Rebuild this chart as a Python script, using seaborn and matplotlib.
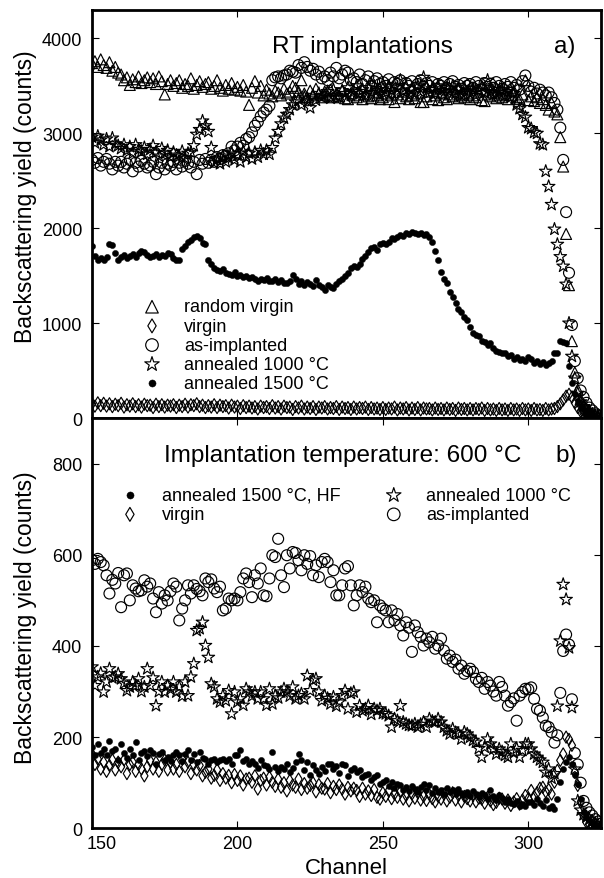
import numpy as np
import matplotlib
matplotlib.use("Agg")
import matplotlib.pyplot as plt
import matplotlib.transforms as mtransforms
import seaborn as sns

# ---------------- data (one value per channel, 150..325) ----------------
channels = np.arange(150, 326)

# panel a) RT implantations
rt_random_virgin = [
    3740, 3760, 3700, 3780, 3720, 3690, 3750, 3660, 3700, 3640,
    3620, 3560, 3590, 3510, 3570, 3540, 3600, 3530, 3560, 3590,
    3540, 3580, 3520, 3600, 3550, 3410, 3520, 3560, 3500, 3530,
    3560, 3480, 3520, 3500, 3580, 3470, 3510, 3550, 3490, 3520,
    3540, 3470, 3500, 3560, 3480, 3450, 3510, 3470, 3530, 3460,
    3490, 3450, 3510, 3440, 3300, 3480, 3550, 3430, 3500, 3400,
    3460, 3420, 3390, 3450, 3430, 3400, 3470, 3420, 3440, 3500,
    3480, 3440, 3560, 3420, 3380, 3450, 3400, 3470, 3420, 3380,
    3440, 3400, 3460, 3380, 3420, 3390, 3450, 3370, 3360, 3420,
    3400, 3380, 3440, 3360, 3410, 3390, 3370, 3430, 3400, 3360,
    3380, 3420, 3360, 3400, 3330, 3410, 3370, 3440, 3390, 3360,
    3400, 3370, 3420, 3330, 3330, 3390, 3440, 3360, 3400, 3350,
    3420, 3380, 3360, 3410, 3390, 3440, 3370, 3400, 3380, 3420,
    3360, 3400, 3380, 3440, 3350, 3340, 3410, 3390, 3430, 3370,
    3400, 3380, 3420, 3360, 3400, 3450, 3380, 3360, 3410, 3560,
    3350, 3390, 3340, 3380, 3320, 3360, 3300, 3250, 3320, 3230,
    3200, 2960, 2650, 1940, 1400, 810, 480, 300, 200, 140,
    100, 70, 50, 30, 20, 10]

rt_virgin = [
    150, 125, 160, 130, 155, 125, 150, 120, 145, 130,
    155, 115, 140, 125, 150, 120, 140, 115, 145, 130,
    135, 110, 145, 120, 140, 115, 135, 125, 140, 110,
    135, 120, 145, 115, 140, 130, 150, 120, 135, 110,
    130, 115, 140, 110, 135, 120, 130, 105, 135, 115,
    125, 100, 130, 110, 125, 105, 120, 95, 125, 110,
    120, 100, 130, 105, 120, 95, 125, 110, 115, 90,
    120, 105, 125, 95, 115, 100, 120, 90, 115, 105,
    120, 95, 110, 100, 120, 90, 115, 100, 110, 90,
    115, 95, 110, 100, 115, 90, 110, 95, 105, 90,
    110, 90, 105, 95, 115, 85, 105, 95, 110, 85,
    105, 90, 110, 85, 105, 95, 100, 85, 105, 90,
    100, 85, 105, 90, 100, 80, 105, 90, 100, 85,
    100, 85, 100, 90, 105, 80, 100, 85, 95, 80,
    100, 85, 95, 80, 100, 85, 95, 80, 100, 85,
    95, 80, 100, 85, 90, 80, 100, 85, 95, 100,
    120, 150, 190, 230, 250, 220, 160, 110, 70, 50,
    35, 25, 15, 10, 5, 0]

rt_as_implanted = [
    2720, 2690, 2740, 2660, 2700, 2730, 2680, 2620, 2700, 2660,
    2700, 2640, 2680, 2720, 2600, 2690, 2650, 2710, 2680, 2640,
    2660, 2700, 2570, 2640, 2690, 2620, 2680, 2660, 2700, 2620,
    2690, 2650, 2710, 2680, 2640, 2700, 2570, 2720, 2680, 2730,
    2690, 2720, 2700, 2750, 2730, 2770, 2760, 2790, 2860, 2820,
    2860, 2900, 2870, 2940, 2960, 3010, 3080, 3120, 3180, 3220,
    3250, 3290, 3560, 3590, 3600, 3580, 3610, 3620, 3660, 3650,
    3640, 3720, 3690, 3750, 3700, 3660, 3680, 3620, 3650, 3580,
    3600, 3560, 3640, 3600, 3690, 3580, 3620, 3660, 3640, 3560,
    3580, 3540, 3620, 3520, 3560, 3600, 3500, 3550, 3580, 3520,
    3540, 3500, 3570, 3480, 3540, 3520, 3560, 3470, 3530, 3500,
    3550, 3480, 3520, 3560, 3490, 3530, 3500, 3540, 3470, 3520,
    3500, 3540, 3480, 3520, 3550, 3490, 3510, 3470, 3530, 3500,
    3520, 3480, 3540, 3500, 3460, 3530, 3490, 3520, 3480, 3540,
    3500, 3470, 3520, 3490, 3540, 3480, 3510, 3460, 3550, 3610,
    3500, 3440, 3480, 3420, 3460, 3430, 3400, 3430, 3380, 3320,
    3250, 3060, 2720, 2170, 1530, 980, 600, 420, 290, 220,
    160, 110, 80, 50, 30, 20]

rt_annealed_1000 = [
    2960, 2900, 2970, 2930, 2880, 2940, 2860, 2950, 2890, 2870,
    2840, 2880, 2820, 2860, 2790, 2880, 2830, 2810, 2850, 2780,
    2830, 2870, 2800, 2760, 2840, 2790, 2820, 2750, 2800, 2770,
    2760, 2810, 2740, 2790, 2800, 2870, 2990, 3040, 3130, 3080,
    3020, 2850, 2690, 2730, 2680, 2760, 2700, 2740, 2790, 2720,
    2770, 2700, 2810, 2750, 2790, 2730, 2800, 2750, 2820, 2780,
    2820, 2780, 2850, 2950, 3020, 3100, 3160, 3200, 3250, 3300,
    3330, 3360, 3300, 3380, 3340, 3270, 3400, 3350, 3420, 3380,
    3400, 3440, 3370, 3460, 3400, 3380, 3450, 3420, 3480, 3400,
    3440, 3500, 3420, 3460, 3400, 3480, 3430, 3500, 3450, 3410,
    3470, 3430, 3500, 3450, 3420, 3480, 3560, 3440, 3490, 3400,
    3460, 3420, 3500, 3440, 3590, 3480, 3430, 3470, 3420, 3500,
    3450, 3410, 3480, 3440, 3500, 3420, 3460, 3400, 3480, 3440,
    3420, 3470, 3400, 3450, 3490, 3430, 3560, 3440, 3410, 3470,
    3430, 3460, 3400, 3440, 3380, 3420, 3300, 3260, 3200, 3170,
    3060, 3050, 3010, 3000, 2890, 2880, 2600, 2440, 2250, 1990,
    1830, 1700, 1600, 1410, 1000, 650, 420, 260, 170, 120,
    80, 60, 40, 25, 15, 5]

rt_annealed_1500 = [
    1810, 1710, 1670, 1690, 1660, 1700, 1830, 1820, 1740, 1670,
    1700, 1720, 1690, 1710, 1730, 1700, 1740, 1760, 1750, 1720,
    1700, 1710, 1730, 1700, 1720, 1710, 1740, 1730, 1690, 1670,
    1670, 1780, 1810, 1860, 1880, 1910, 1920, 1900, 1840, 1830,
    1670, 1620, 1580, 1560, 1550, 1570, 1530, 1520, 1510, 1540,
    1500, 1510, 1490, 1500, 1480, 1490, 1470, 1440, 1460, 1450,
    1480, 1440, 1440, 1460, 1430, 1450, 1420, 1420, 1440, 1510,
    1460, 1410, 1440, 1400, 1430, 1410, 1390, 1450, 1400, 1380,
    1350, 1400, 1380, 1370, 1410, 1440, 1460, 1500, 1530, 1580,
    1600, 1590, 1620, 1680, 1710, 1750, 1790, 1800, 1770, 1830,
    1840, 1830, 1860, 1900, 1890, 1910, 1930, 1920, 1950, 1940,
    1960, 1950, 1940, 1950, 1930, 1940, 1910, 1850, 1760, 1670,
    1540, 1470, 1420, 1330, 1270, 1210, 1150, 1120, 1060, 1030,
    960, 900, 880, 860, 810, 800, 770, 790, 740, 710,
    700, 680, 690, 650, 660, 620, 640, 610, 625, 600,
    640, 620, 580, 600, 570, 590, 560, 580, 600, 690,
    690, 810, 800, 790, 550, 370, 250, 180, 120, 80,
    60, 40, 30, 20, 10, 5]

# panel b) implantation at 600 C
b_as_implanted = [
    588, 580, 591, 584, 577, 555, 515, 545, 537, 560,
    485, 555, 559, 500, 533, 526, 520, 522, 544, 530,
    537, 504, 474, 518, 493, 511, 500, 520, 537, 530,
    456, 482, 500, 533, 515, 533, 525, 520, 511, 548,
    540, 546, 526, 518, 530, 478, 482, 504, 500, 504,
    500, 518, 548, 559, 540, 507, 555, 537, 570, 511,
    509, 548, 599, 595, 635, 555, 529, 599, 570, 606,
    604, 588, 566, 599, 580, 597, 555, 577, 551, 584,
    591, 584, 540, 566, 511, 511, 533, 570, 575, 533,
    489, 511, 533, 518, 530, 504, 496, 500, 452, 489,
    482, 478, 452, 478, 456, 470, 445, 423, 452, 440,
    387, 445, 430, 420, 401, 416, 408, 420, 394, 401,
    416, 390, 372, 379, 365, 370, 350, 357, 339, 345,
    350, 343, 328, 321, 330, 306, 321, 313, 300, 291,
    321, 310, 291, 269, 277, 285, 236, 291, 299, 306,
    305, 309, 284, 262, 258, 243, 225, 222, 211, 188,
    204, 297, 389, 425, 403, 283, 165, 140, 100, 60,
    45, 35, 28, 20, 15, 10]

b_annealed_1000 = [
    354, 313, 332, 340, 299, 321, 350, 330, 332, 339,
    328, 318, 302, 310, 321, 313, 328, 300, 310, 350,
    313, 330, 269, 300, 321, 299, 313, 305, 321, 299,
    310, 290, 321, 291, 332, 361, 434, 438, 452, 401,
    375, 317, 310, 284, 277, 291, 280, 302, 251, 299,
    277, 284, 270, 306, 299, 290, 299, 284, 299, 284,
    270, 306, 273, 291, 286, 299, 306, 299, 290, 310,
    284, 291, 295, 284, 335, 302, 325, 328, 299, 280,
    291, 285, 273, 288, 268, 277, 291, 302, 262, 296,
    299, 255, 269, 258, 262, 269, 250, 262, 258, 262,
    252, 251, 247, 222, 240, 236, 269, 233, 229, 226,
    225, 229, 222, 228, 233, 222, 240, 235, 233, 240,
    233, 222, 214, 207, 218, 210, 207, 196, 211, 207,
    200, 193, 189, 175, 156, 178, 196, 185, 174, 163,
    174, 168, 160, 156, 185, 167, 175, 156, 171, 185,
    185, 174, 163, 156, 150, 145, 123, 130, 110, 120,
    268, 411, 535, 502, 396, 265, 130, 60, 40, 30,
    25, 20, 15, 10, 8, 5]

b_annealed_1500_hf = [
    178, 160, 185, 165, 175, 160, 192, 170, 174, 150,
    185, 165, 155, 175, 160, 189, 150, 165, 170, 158,
    171, 165, 140, 162, 168, 150, 156, 148, 160, 167,
    160, 148, 162, 171, 150, 163, 145, 167, 155, 152,
    140, 150, 152, 145, 150, 152, 148, 152, 140, 160,
    160, 171, 148, 152, 140, 148, 142, 132, 150, 138,
    137, 130, 167, 135, 125, 135, 130, 140, 124, 133,
    145, 164, 150, 128, 146, 118, 138, 127, 120, 134,
    125, 140, 142, 130, 136, 122, 140, 138, 115, 128,
    132, 124, 127, 112, 118, 120, 106, 112, 116, 98,
    101, 105, 92, 101, 88, 98, 94, 85, 90, 82,
    92, 86, 80, 90, 97, 84, 94, 78, 88, 80,
    84, 76, 88, 80, 83, 75, 86, 78, 72, 79,
    70, 82, 75, 68, 78, 72, 65, 83, 70, 62,
    72, 66, 58, 64, 55, 53, 60, 50, 53, 48,
    58, 57, 52, 64, 55, 48, 61, 45, 50, 42,
    64, 101, 130, 145, 156, 141, 116, 97, 64, 35,
    25, 18, 12, 8, 5, 3]

b_virgin = [
    163, 140, 152, 130, 145, 125, 138, 150, 128, 145,
    135, 150, 120, 140, 145, 125, 140, 130, 115, 135,
    148, 130, 145, 125, 140, 150, 128, 145, 130, 140,
    125, 152, 135, 145, 120, 140, 128, 138, 115, 123,
    130, 110, 116, 128, 105, 120, 110, 116, 100, 118,
    105, 115, 95, 108, 110, 101, 115, 86, 105, 110,
    95, 112, 101, 92, 108, 90, 100, 82, 105, 95,
    90, 108, 85, 98, 88, 94, 100, 80, 96, 88,
    86, 98, 78, 92, 85, 95, 86, 75, 90, 82,
    88, 83, 70, 88, 75, 82, 72, 85, 68, 64,
    78, 70, 82, 65, 75, 68, 80, 64, 72, 60,
    75, 66, 78, 62, 70, 61, 74, 65, 58, 70,
    64, 75, 60, 68, 78, 62, 72, 58, 70, 65,
    60, 72, 58, 66, 64, 55, 68, 60, 52, 57,
    66, 64, 55, 62, 50, 58, 65, 53, 62, 72,
    65, 83, 70, 78, 88, 90, 80, 85, 75, 101,
    127, 149, 163, 200, 195, 182, 123, 94, 57, 28,
    13, 8, 5, 3, 2, 0]

for _s in (rt_random_virgin, rt_virgin, rt_as_implanted, rt_annealed_1000,
           rt_annealed_1500, b_as_implanted, b_annealed_1000,
           b_annealed_1500_hf, b_virgin):
    assert len(_s) == len(channels), len(_s)

x_ticks = [150, 200, 250, 300]
y_ticks_a = [0, 1000, 2000, 3000, 4000]
y_ticks_b = [0, 200, 400, 600, 800]

# ---------------- style ----------------
sns.set_style("ticks")
plt.rcParams["font.family"] = ["Liberation Sans", "DejaVu Sans"]
plt.rcParams["text.color"] = "black"
plt.rcParams["axes.labelcolor"] = "black"
plt.rcParams["xtick.color"] = "black"
plt.rcParams["ytick.color"] = "black"

W, H = 604, 879
fig = plt.figure(figsize=(W / 100, H / 100), dpi=100)
L, R = 92, 601
ax1 = fig.add_axes([L / W, 1 - 419 / H, (R - L) / W, (419 - 11) / H])
ax2 = fig.add_axes([L / W, 1 - 829.3 / H, (R - L) / W, (829.3 - 419) / H])

open_kw = dict(facecolor="none", edgecolor="black", linewidth=0.85)
dot_kw = dict(color="black", edgecolor="black", linewidth=0.3)

S_CIRC, S_TRI, S_STAR, S_DIA, S_DOT = 62, 62, 90, 38, 20

# panel a
sns.scatterplot(x=channels, y=rt_random_virgin, ax=ax1, marker="^", s=S_TRI,
                label="random virgin", **open_kw)
sns.scatterplot(x=channels, y=rt_virgin, ax=ax1, marker="d", s=S_DIA,
                label="virgin", **open_kw)
sns.scatterplot(x=channels, y=rt_as_implanted, ax=ax1, marker="o", s=S_CIRC,
                label="as-implanted", **open_kw)
sns.scatterplot(x=channels, y=rt_annealed_1000, ax=ax1, marker="*", s=S_STAR,
                label="annealed 1000 °C", **open_kw)
sns.scatterplot(x=channels, y=rt_annealed_1500, ax=ax1, marker="o", s=S_DOT,
                label="annealed 1500 °C", **dot_kw)

# panel b
sns.scatterplot(x=channels, y=b_as_implanted, ax=ax2, marker="o", s=S_CIRC,
                label="as-implanted", **open_kw)
sns.scatterplot(x=channels, y=b_annealed_1000, ax=ax2, marker="*", s=S_STAR,
                label="annealed 1000 °C", **open_kw)
sns.scatterplot(x=channels, y=b_virgin, ax=ax2, marker="d", s=S_DIA,
                label="virgin", **open_kw)
sns.scatterplot(x=channels, y=b_annealed_1500_hf, ax=ax2, marker="o", s=S_DOT,
                label="annealed 1500 °C, HF", **dot_kw)

for ax in (ax1, ax2):
    ax.set_xlim(150, 325)
    ax.set_xticks(x_ticks)
    for sp in ax.spines.values():
        sp.set_visible(True)
        sp.set_linewidth(2.0)
        sp.set_color("black")
    ax.tick_params(axis="both", direction="in", length=5, width=0.8,
                   top=True, right=True, labelsize=13, colors="black")
    ax.tick_params(axis="y", pad=7)
    ax.tick_params(axis="x", pad=5)
    ax.set_facecolor("white")
    ax.grid(False)

ax1.set_ylim(0, 4300)
ax1.set_yticks(y_ticks_a)
ax1.tick_params(axis="x", labelbottom=False)
ax2.set_ylim(0, 900)
ax2.set_yticks(y_ticks_b)

ax1.set_ylabel("Backscattering yield (counts)", fontsize=16.5, color="black")
ax1.yaxis.set_label_coords(-0.108, 0.544)
ax2.set_ylabel("Backscattering yield (counts)", fontsize=16.5, color="black")
ax2.yaxis.set_label_coords(-0.108, 0.516)
ax1.set_xlabel("")
ax2.set_xlabel("Channel", fontsize=16, color="black")
ax2.xaxis.set_label_coords(0.5, -0.070)

# shift the first x tick label slightly right (as in the reference)
first = ax2.xaxis.get_major_ticks()[0].label1
first.set_transform(first.get_transform() +
                    mtransforms.ScaledTranslation(10 / 100, 0, fig.dpi_scale_trans))

# titles
ax1.text(0.353, 0.896, "RT implantations", transform=ax1.transAxes,
         fontsize=17.5, ha="left", va="baseline", color="black")
ax1.text(0.950, 0.896, "a)", transform=ax1.transAxes,
         fontsize=17.5, ha="right", va="baseline", color="black")
ax2.text(0.141, 0.896, "Implantation temperature: 600 °C", transform=ax2.transAxes,
         fontsize=17.5, ha="left", va="baseline", color="black")
ax2.text(0.952, 0.896, "b)", transform=ax2.transAxes,
         fontsize=17.5, ha="right", va="baseline", color="black")

# legends
leg_kw = dict(frameon=False, fontsize=13, handlelength=2.0, handletextpad=0.78,
              labelspacing=0.12, borderpad=0, borderaxespad=0, scatterpoints=1,
              markerscale=1.15, labelcolor="black")
h1, l1 = ax1.get_legend_handles_labels()
ax1.legend(h1, l1, loc="upper left", bbox_to_anchor=(0.0824, 0.293), **leg_kw)

h2, l2 = ax2.get_legend_handles_labels()
order = [l2.index(n) for n in ["annealed 1500 °C, HF", "virgin",
                               "annealed 1000 °C", "as-implanted"]]
ax2.legend([h2[i] for i in order], [l2[i] for i in order], ncol=2,
           loc="upper left", bbox_to_anchor=(0.039, 0.832),
           columnspacing=1.94, **leg_kw)

fig.savefig("out.png", dpi=100)
